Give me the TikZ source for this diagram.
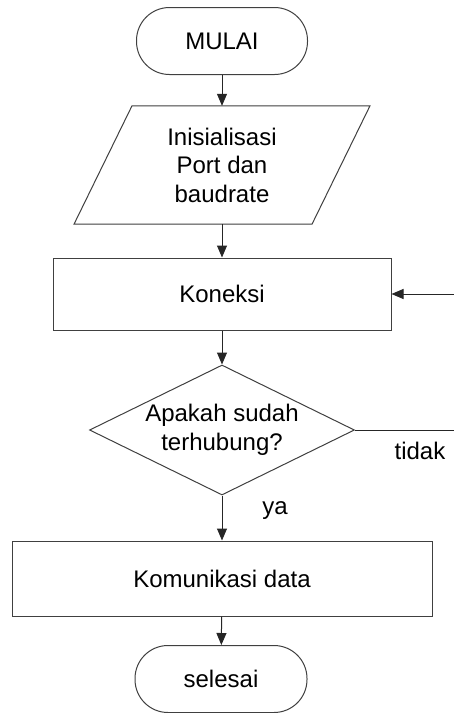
\documentclass[tikz,border=0pt]{standalone}
\usepackage{fontspec}
\setmainfont{Liberation Sans}
\usetikzlibrary{arrows.meta,shapes.geometric,backgrounds}
\begin{document}
\begin{tikzpicture}[x=1pt,y=-1pt,
  every node/.style={font=\fontsize{24}{28.5}\selectfont, text=black, inner sep=0pt},
  outline/.style={draw=black!75, line width=1pt, fill=white},
  terminal/.style={outline, rounded corners=33pt, minimum width=171pt, minimum height=67pt},
  process/.style={outline, rectangle},
  decision/.style={outline, diamond, aspect=2.03, minimum width=265pt, minimum height=130pt, align=center},
  link/.style={draw=black!85, line width=1pt, -{Triangle[length=12pt,width=10pt]}},
  plainline/.style={draw=black!85, line width=1pt}]
\useasboundingbox (0,0) rectangle (453,713);

\node[terminal] (mulai) at (222,41) {MULAI};

% input/output step: the text node carries the anchors, the slanted box sits behind it
\node[minimum width=180pt, minimum height=118pt, align=center] (init) at (222,165)
  {Inisialisasi\\Port dan\\baudrate};
\begin{scope}[on background layer]
  \fill[white] (0,0) rectangle (453,713);
  \draw[outline] ([xshift=-90pt]init.north) -- ([xshift=148pt]init.north)
    -- ([xshift=90pt]init.south) -- ([xshift=-148pt]init.south) -- cycle;
\end{scope}

\node[process, minimum width=338pt, minimum height=72pt] (koneksi) at (222,294) {Koneksi};
\node[decision] (cek) at (222,430) {Apakah sudah\\terhubung?};
\node[process, minimum width=420pt, minimum height=75pt] (kom) at (222,578.5) {Komunikasi data};
\node[terminal, minimum width=172pt] (selesai) at (221,679) {selesai};

\draw[link] (mulai) -- (init.north);
\draw[link] (init.south) -- (koneksi);
\draw[link] (koneksi) -- (cek);
\draw[link] (cek) -- (kom);
\draw[link] (kom) -- (selesai);

% loop back while not connected
\coordinate (balik) at (456,430);
\draw[plainline] (cek.east) -- (balik);
\draw[link] (balik) |- (koneksi.east);

\node (ya) at (275,511) {ya};
\node (tidak) at (420,451) {tidak};
\end{tikzpicture}
\end{document}
